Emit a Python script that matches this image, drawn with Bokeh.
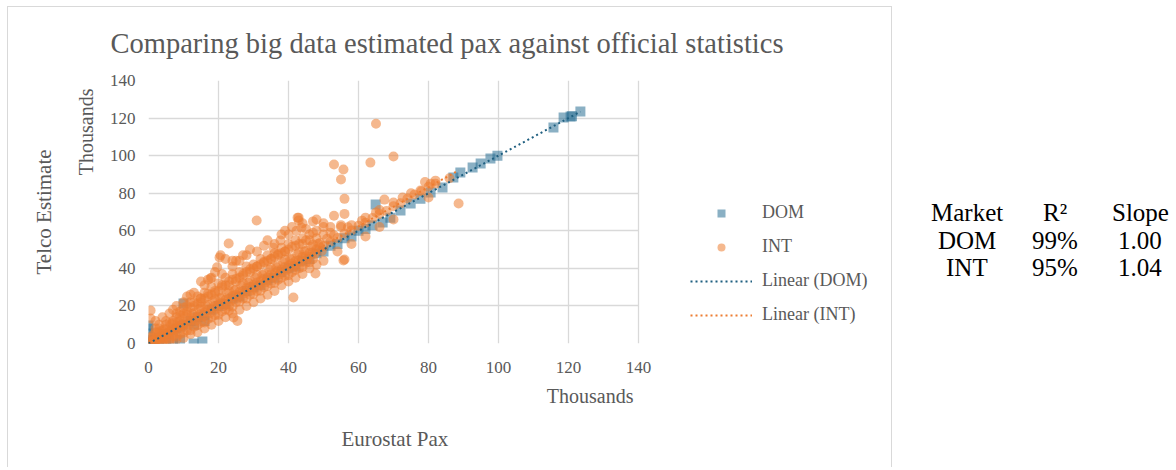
import numpy as np
from bokeh.plotting import figure
from bokeh.models import Range1d, Legend, LegendItem, Title, Grid
from bokeh.embed import file_html
from bokeh.resources import INLINE

# ---------------- data (thousands of passengers) ----------------
ticks = [0, 20, 40, 60, 80, 100, 120, 140]

dom_x = [0, 0, 0, 0, 0, 1, 2, 3, 4, 5,
         6, 7, 8, 9, 10, 10, 12, 12.9, 15.4, 13,
         14, 16, 16, 18, 20, 22, 24, 26, 28, 30,
         32, 34, 36, 38, 40, 42, 44, 46, 48, 50,
         52, 54, 56, 58, 60, 62, 64, 64.9, 66.9, 69.1,
         72, 74.9, 77.7, 80.6, 84, 87.1, 89.1, 92.6, 94.9, 97.7,
         99.7, 115.7, 118.6, 120.6, 121, 123.4, 3, 5, 7, 9]
dom_y = [0, 2, 5.3, 8, 9.6, 1, 2, 3, 3, 5,
         5, 7, 8, 9, 10, 21.3, 12, 0, 1, 10,
         14, 15, 12, 18, 20, 21, 24, 25, 28, 30,
         31, 34, 35, 38, 40, 41, 44, 45, 48, 49,
         52, 53, 56, 57, 60, 61, 63, 74, 64.4, 67,
         70.8, 74.5, 77, 80.4, 83, 88.3, 91, 93.7, 95.8, 98.5,
         100, 115, 120.3, 120.8, 121, 123.5, 0, 1, 0, 2]

int_core_x = [0, 0.5, 1, 1.5, 2, 2.5, 3, 3.5, 4, 4.5,
              5, 5.5, 6, 6.5, 7, 7.5, 8, 8.5, 9, 9.5,
              10, 11, 12, 13, 14, 15, 16, 17, 18, 19,
              20, 21, 22, 23, 24, 25, 26, 27, 28, 29,
              30, 31, 32, 33, 34, 35, 36, 37, 38, 39,
              40, 41, 42, 43, 44, 45, 46, 47, 48, 49,
              50, 52, 54, 56, 58, 60, 62, 64, 66, 68,
              70, 72, 74, 76, 78, 80, 82]
int_core_y = [0.3, 0.8, 1.2, 1.4, 2.2, 2.4, 3.3, 3.5, 4.4, 4.6,
              5.3, 5.6, 6.4, 6.9, 7.1, 7.9, 8.3, 8.9, 9.4, 10.1,
              10.4, 11.6, 12.3, 13.8, 14.4, 15.9, 16.5, 17.9, 18.6, 19.9,
              20.8, 21.7, 23.1, 23.8, 25.2, 25.9, 27.4, 27.8, 29.4, 30.1,
              31.3, 32.5, 33.2, 34.6, 35.1, 36.8, 37.2, 38.9, 39.4, 40.8,
              41.5, 42.6, 43.9, 44.3, 46.1, 46.5, 48.2, 48.6, 50.1, 51.2,
              51.9, 54.3, 56.1, 58.6, 60.2, 62.7, 64.3, 66.8, 68.9, 70.5,
              73.1, 74.6, 77.2, 79.3, 81.0, 83.4, 85.1]

int_up_x = [1, 2, 3, 4, 5, 6, 7, 8, 9, 10,
            11, 12, 13, 14, 15, 16, 17, 18, 19, 20,
            21, 22, 23, 24, 25, 26, 27, 28, 29, 30,
            31, 32, 33, 34, 35, 36, 37, 38, 39, 40,
            42, 44, 46, 48, 50, 52, 55, 58, 62, 66,
            70, 75, 79]
int_up_y = [4, 6, 8, 7, 10, 11, 12, 14, 15, 16,
            17, 19, 20, 21, 22, 24, 25, 26, 27, 28,
            30, 31, 31, 34, 33, 35, 36, 38, 38, 40,
            41, 42, 43, 44, 45, 46, 47, 48, 49, 50,
            52, 53, 55, 56, 58, 59, 62, 63, 67, 71,
            75, 80, 86]

int_mid_x = [0.5, 2.5, 4.5, 6.5, 8.5, 10.5, 12.5, 14.5, 16.5, 18.5,
             20.5, 22.5, 24.5, 26.5, 28.5, 30.5, 32.5, 34.5, 36.5, 38.5,
             40.5, 42.5, 44.5, 46.5, 48.5, 51, 53, 57, 61, 65]
int_mid_y = [3.2, 5.9, 7.4, 10.1, 11.5, 14.2, 15.7, 18.4, 19.8, 22.5,
             24.1, 26.8, 28.2, 30.9, 32.3, 35.0, 36.5, 39.2, 40.6, 43.3,
             44.8, 47.5, 48.9, 51.6, 53.1, 55.8, 57.6, 61.9, 65.4, 69.8]

int_fill_x = [1, 3, 5, 7, 9, 11, 13, 15, 17, 19,
              21, 23, 25, 27, 29, 31, 33, 35, 37, 39,
              41, 43, 45, 47, 49]
int_fill_y = [2.9, 5.8, 7.6, 10.9, 12.1, 15.3, 16.2, 19.4, 20.5, 23.6,
              24.8, 27.9, 28.7, 32.1, 33.2, 36.4, 37.1, 40.3, 41.6, 44.7,
              45.3, 48.6, 49.4, 52.7, 53.5]

int_hi_x = [9, 11, 13, 15, 17, 19, 21, 23, 25, 27,
            29, 31, 33, 35, 37, 39, 41, 43, 45]
int_hi_y = [17, 20, 22, 24, 26.5, 28, 31, 33, 34.5, 37,
            39.5, 41, 43.5, 45, 47.5, 49, 51.5, 53, 55]

int_edge_x = [11, 13, 16, 18, 21, 24, 26, 28, 31, 33,
              36, 40, 45, 50, 7, 4, 2]
int_edge_y = [25, 27, 31, 35, 37, 41, 44, 47, 49, 52,
              53, 58, 61, 64, 18, 14, 12]

int_cloud_x = [5, 8, 10, 12, 14, 16, 18, 20, 22, 24,
               26, 28, 30, 32, 34, 36, 38, 40, 42, 44,
               46, 48, 50, 52, 55, 15, 17, 19, 22, 25,
               27, 29, 34, 38, 39, 41, 44, 47, 48, 53,
               56, 10, 12, 8, 6, 3, 2]
int_cloud_y = [12, 16, 19, 22, 25, 27, 30, 32, 35, 37,
               38, 41, 42, 45, 47, 48, 51, 53, 55, 56,
               58, 60, 62, 62, 63, 33, 34, 38, 45, 44,
               47, 50, 55, 58, 60, 62, 64, 65, 66, 68,
               69, 22, 26, 20, 16, 10, 8]

int_low_x = [2, 4, 6, 8, 10, 12, 14, 16, 18, 20,
             22, 24, 26, 28, 30, 32, 34, 36, 38, 40,
             42, 44, 46, 48, 50, 54, 58, 62, 66, 70,
             3, 5, 7, 9, 11, 13, 15, 17, 19, 21,
             23, 25, 27, 29, 31, 33, 35, 37, 39, 41,
             43, 45, 47]
int_low_y = [0, 0.5, 1, 2, 3, 5, 6, 8, 10, 12,
             14, 16, 18, 20, 22, 24, 26, 28, 31, 33,
             35, 37, 40, 42, 44, 49, 53, 57, 62, 66,
             1, 2, 4, 5, 7, 9, 11, 13, 15, 17,
             20, 22, 24, 26, 28, 30, 32, 34, 36, 38,
             40, 43, 45]

int_lo2_x = [1.5, 3.5, 5.5, 7.5, 9.5, 11.5, 13.5, 15.5, 17.5, 19.5,
             21.5, 23.5, 25.5, 27.5, 29.5, 31.5, 33.5, 35.5, 37.5, 39.5,
             41.5, 43.5, 45.5, 47.5, 49.5]
int_lo2_y = [0, 1.6, 3.9, 5.6, 8.1, 10.2, 12, 14.3, 16.1, 18.5,
             20.1, 22.6, 24.3, 26.8, 28.4, 30.9, 32.6, 35.1, 36.8, 39.2,
             40.9, 43.4, 45.1, 47.6, 49.3]

int_lo3_x = [2, 4, 6, 8, 10, 12, 14, 16, 18, 20,
             22, 24, 26, 28, 30, 32, 34, 36, 38, 40,
             42, 44, 46]
int_lo3_y = [0.2, 0.9, 2.1, 3.6, 5.8, 7.1, 9.7, 11.2, 13.9, 15.3,
             18.1, 19.6, 22.3, 23.9, 26.4, 28.1, 30.6, 32.2, 35.0, 36.3,
             39.1, 40.7, 43.2]

int_out_x = [65, 53, 55.7, 55, 63.4, 70, 56, 67.4, 30.9, 42.9,
             42.9, 42.3, 43.7, 47, 37.7, 35.7, 56, 41.4, 24.3, 0.6,
             0.6, 22.9, 20.3, 17.7, 88.6, 80.6, 82, 77.7, 80, 72.6,
             86, 47.7, 42.6, 14.9, 20.6, 24, 19.6, 23, 25.4, 55.7]
int_out_y = [117, 95.3, 92.6, 87.3, 96.3, 99.5, 77, 76.6, 65.5, 67,
             65.5, 60, 61.7, 59, 54.8, 51, 44.7, 24.5, 13.8, 17.6,
             13.3, 53.2, 45.8, 34.6, 74.5, 85, 86.7, 81.4, 77.7, 77.7,
             88, 37.3, 67, 24, 47, 44, 40.6, 17.6, 12, 44.2]

int_x = (int_core_x + int_up_x + int_mid_x + int_fill_x + int_hi_x + int_edge_x
         + int_cloud_x + int_low_x + int_lo2_x + int_lo3_x + int_out_x)
int_y = (int_core_y + int_up_y + int_mid_y + int_fill_y + int_hi_y + int_edge_y
         + int_cloud_y + int_low_y + int_lo2_y + int_lo3_y + int_out_y)

markets = ["DOM", "INT"]
r2 = ["99%", "95%"]
slopes = [1.00, 1.04]
table_header = ["Market", "R²", "Slope"]

# ---------------- styling ----------------
SERIF = "Liberation Serif"
GREY = "#595959"
GRID = "#d9d9d9"

# The frame runs on to the right edge of the page so that the legend and the
# side table (both drawn inside it) are not clipped; the x range is extended
# by the same factor so that 0..140 still covers the 490 px wide plot area.
PLOT_W, FRAME_W, FRAME_H = 490, 1024, 263
x_end = ticks[-1] * FRAME_W / PLOT_W

p = figure(frame_width=FRAME_W, frame_height=FRAME_H,
           min_border_left=148, min_border_right=0,
           min_border_top=80, min_border_bottom=124,
           x_range=Range1d(ticks[0], x_end), y_range=Range1d(ticks[0], ticks[-1]),
           output_backend="svg", toolbar_location=None)
# light grey chart border (left, top and right edges of the chart area)
g = "linear-gradient(#d9d9d9, #d9d9d9)"
p.styles = {"background-image": f"{g}, {g}, {g}",
            "background-size": "885px 1px, 1px 470px, 1px 470px",
            "background-position": "7px 6px, 7px 6px, 891px 6px",
            "background-repeat": "no-repeat"}
p.background_fill_color = None
p.border_fill_color = None
p.outline_line_color = None

for ax in (p.xaxis, p.yaxis):
    ax.ticker = ticks
    ax.axis_line_color = None
    ax.major_tick_line_color = None
    ax.minor_tick_line_color = None
    ax.major_tick_out = 0
    ax.major_label_text_font = SERIF
    ax.major_label_text_font_size = "17px"
    ax.major_label_text_color = GREY
p.xaxis.major_label_standoff = 18
p.yaxis.major_label_standoff = 13

p.xgrid.grid_line_color = GRID
p.xgrid.grid_line_width = 1.3
if "cross_bounds" in Grid.properties():
    p.ygrid.grid_line_color = GRID
    p.ygrid.grid_line_width = 1.3
    p.ygrid.cross_bounds = (ticks[0], ticks[-1])
else:
    p.ygrid.visible = False
    p.segment(x0=[ticks[0]] * len(ticks), x1=[ticks[-1]] * len(ticks),
              y0=ticks, y1=ticks, line_color=GRID, line_width=1.3)

dom_r = p.scatter(dom_x, dom_y, marker="square", size=10,
                  fill_color="#2a6f93", fill_alpha=0.55, line_color=None)
int_r = p.scatter(int_x, int_y, marker="circle", size=10,
                  fill_color="#ed7d31", fill_alpha=0.55, line_color=None)

dom_lx = np.array([min(dom_x), max(dom_x)])
int_lx = np.array([min(int_x), max(int_x)])
int_line = p.line(int_lx, slopes[1] * int_lx, line_color="#ed7d31",
                  line_width=2, line_dash="2 3")
dom_line = p.line(dom_lx, slopes[0] * dom_lx, line_color="#1f5f80",
                  line_width=2, line_dash="2 3")
blank = p.line(x=[], y=[], line_alpha=0)

# titles in the side panels
p.title.text = "Comparing big data estimated pax against official statistics"
p.title.align = "left"
p.title.offset = -38
p.title.standoff = 40
p.title.vertical_align = "top"
p.title.text_font = SERIF
p.title.text_font_size = "28.5px"
p.title.text_font_style = "normal"
p.title.text_color = GREY


def side_title(text, place, align, size, standoff, offset=0):
    p.add_layout(Title(text=text, align=align, offset=offset, standoff=standoff,
                       text_font=SERIF, text_font_size=size,
                       text_font_style="normal", text_color=GREY), place)


side_title("Thousands", "left", "right", "20px", 20, offset=8)
side_title("Telco Estimate", "left", "center", "21px", 13)
side_title("Thousands", "below", "right", "20px", 14, offset=FRAME_W - PLOT_W + 5)
side_title("Eurostat Pax", "below", "left", "21px", 22, offset=193)

legend = Legend(items=[LegendItem(label="DOM", renderers=[dom_r]),
                       LegendItem(label="INT", renderers=[int_r]),
                       LegendItem(label="Linear (DOM)", renderers=[dom_line]),
                       LegendItem(label="Linear (INT)", renderers=[int_line])],
                location=(PLOT_W + 52, 18), orientation="vertical",
                border_line_color=None, background_fill_alpha=0,
                padding=0, margin=0, spacing=13,
                glyph_width=62, glyph_height=20, label_height=20,
                label_standoff=10,
                label_text_font=SERIF, label_text_font_size="18px",
                label_text_color=GREY)
p.add_layout(legend, "center")

# ---------------- side table: one single-entry legend per cell ----------------
table_rows = [table_header,
              [markets[0], r2[0], f"{slopes[0]:.2f}"],
              [markets[1], r2[1], f"{slopes[1]:.2f}"]]
# left edge of each cell (px from the frame's left edge), chosen to centre
# the texts of each column, and the bottom offset of each row
cell_left = [[783, 895, 964],
             [790, 884, 970],
             [798, 884, 970]]
row_bottom = [116, 88, 61]
for texts, lefts, yb in zip(table_rows, cell_left, row_bottom):
    for s, xl in zip(texts, lefts):
        p.add_layout(Legend(items=[LegendItem(label=s, renderers=[blank])],
                            location=(xl, yb), orientation="vertical",
                            border_line_color=None, background_fill_alpha=0,
                            padding=0, margin=0, spacing=0,
                            glyph_width=0, glyph_height=28, label_height=28,
                            label_standoff=0,
                            label_text_font=SERIF, label_text_font_size="25px",
                            label_text_color="black"), "center")

open("out.html", "w").write(file_html(p, INLINE))
